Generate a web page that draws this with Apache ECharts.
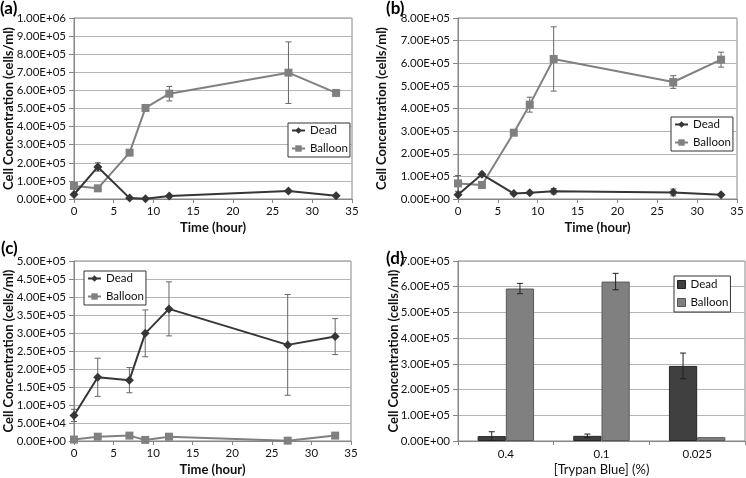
<!DOCTYPE html>
<html>
<head>
<meta charset="utf-8">
<script src="https://cdn.jsdelivr.net/npm/echarts@6/dist/echarts.min.js"></script>
<style>
html,body{margin:0;padding:0;background:#fff;}
#wrap{position:relative;width:746px;height:478px;overflow:hidden;}
.p{position:absolute;width:373px;height:239px;}
</style>
</head>
<body>
<div id="wrap">
<div class="p" id="pa" style="left:0;top:0;"></div>
<div class="p" id="pb" style="left:373px;top:0;"></div>
<div class="p" id="pc" style="left:0;top:239px;"></div>
<div class="p" id="pd" style="left:373px;top:239px;"></div>
</div>
<script>
// ---- data ----
var times = [0, 3, 7, 9, 12, 27, 33];
var xTicks = [0, 5, 10, 15, 20, 25, 30, 35];

// (a)
var aDead       = [25000, 177000, 5000, 2000, 17000, 44000, 18000];
var aDeadErr    = [0, 23000, 0, 0, 0, 0, 0];
var aBalloon    = [72000, 59000, 256000, 503000, 582000, 698000, 586000];
var aBalloonErr = [0, 0, 0, 0, 40000, 170000, 15000];

// (b)
var bDead       = [19000, 109000, 24000, 28000, 34000, 29000, 19000];
var bDeadErr    = [0, 0, 0, 0, 12000, 15000, 0];
var bBalloon    = [69000, 62000, 293000, 417000, 619000, 517000, 616000];
var bBalloonErr = [35000, 0, 0, 33000, 142000, 28000, 33000];

// (c)
var cDead       = [71000, 177000, 169000, 299000, 367000, 267000, 290000];
var cDeadErr    = [17000, 53000, 35000, 65000, 75000, 140000, 50000];
var cBalloon    = [4000, 12000, 15000, 3000, 12000, 1000, 15000];
var cBalloonErr = [0, 0, 0, 0, 8000, 0, 0];

// (d)
var dCategories = ['0.4', '0.1', '0.025'];
var dDead       = [19000, 20000, 292000];
var dDeadErr    = [17000, 7000, 50000];
var dBalloon    = [593000, 620000, 15000];
var dBalloonErr = [20000, 32000, 0];

var FONT = 'Lato';
var DEAD_C = '#363636', BAL_C = '#808080', ERR_C = '#666666';
var TICK_FS = 11.5, NAME_FS = 13, LEG_FS = 11.5;

function sci(v) {
  var s = Number(v).toExponential(2).toUpperCase();
  return s.replace(/E([+-])(\d)$/, 'E$10$2');
}

function errData(xs, vals, errs) {
  var out = [];
  for (var i = 0; i < vals.length; i++) {
    if (errs[i] > 0) out.push([xs[i], vals[i] - errs[i], vals[i] + errs[i]]);
  }
  return out;
}

function errRender(color) {
  return function (params, api) {
    var x = api.value(0), lo = api.value(1), hi = api.value(2);
    var p1 = api.coord([x, hi]), p2 = api.coord([x, lo]);
    var w = 3;
    var st = {stroke: color, lineWidth: 1};
    return {type: 'group', children: [
      {type: 'line', shape: {x1: p1[0], y1: p1[1], x2: p2[0], y2: p2[1]}, style: st},
      {type: 'line', shape: {x1: p1[0] - w, y1: p1[1], x2: p1[0] + w, y2: p1[1]}, style: st},
      {type: 'line', shape: {x1: p2[0] - w, y1: p2[1], x2: p2[0] + w, y2: p2[1]}, style: st}
    ]};
  };
}

function pairs(xs, ys) { return xs.map(function (x, i) { return [x, ys[i]]; }); }

function yAxisCfg(max, interval, nameGap) {
  return {
    type: 'value', min: 0, max: max, interval: interval,
    name: 'Cell Concentration (cells/ml)', nameLocation: 'middle', nameGap: nameGap,
    nameMoveOverlap: false,
    nameTextStyle: {fontFamily: FONT, fontWeight: 'bold', fontSize: NAME_FS, color: '#111', lineHeight: 14},
    axisLine: {show: true, lineStyle: {color: '#868686', width: 1}},
    axisTick: {show: true, length: 5, lineStyle: {color: '#868686'}},
    axisLabel: {fontFamily: FONT, fontSize: TICK_FS, color: '#111', margin: 8, formatter: sci},
    splitLine: {show: true, lineStyle: {color: '#b4b4b4', width: 1}}
  };
}

function timeXAxis() {
  return {
    type: 'value', min: 0, max: 35, interval: 5,
    name: 'Time (hour)', nameLocation: 'middle', nameGap: 22, nameMoveOverlap: false,
    nameTextStyle: {fontFamily: FONT, fontWeight: 'bold', fontSize: NAME_FS, color: '#111'},
    axisLine: {show: true, onZero: false, lineStyle: {color: '#868686', width: 1}},
    axisTick: {show: true, length: 4, lineStyle: {color: '#868686'}},
    axisLabel: {fontFamily: FONT, fontSize: TICK_FS, color: '#111', margin: 6},
    splitLine: {show: false}
  };
}

function legendCfg(left, top) {
  return {
    orient: 'vertical', left: left, top: top,
    padding: [1, 2, 2, 3], itemGap: 5, itemWidth: 13, itemHeight: 8,
    borderColor: '#333', borderWidth: 1, backgroundColor: '#fff',
    textStyle: {fontFamily: FONT, fontSize: LEG_FS, color: '#111', lineHeight: 13},
    data: ['Dead', 'Balloon']
  };
}

function panelTitle(txt, left, top) {
  return {text: txt, left: left, top: top, padding: 0,
    textStyle: {fontFamily: FONT, fontWeight: 'bold', fontSize: 17, color: '#000'}};
}

function gridCfg(g) {
  return {left: g[0], top: g[1], width: g[2], height: g[3], show: true,
    containLabel: false, outerBoundsMode: 'none',
    borderColor: '#868686', borderWidth: 1, backgroundColor: 'transparent'};
}

function lineOption(label, labelPos, grid, yMax, yInt, legendPos, dead, deadErr, bal, balErr) {
  return {
    animation: false,
    title: panelTitle(label, labelPos[0], labelPos[1]),
    grid: gridCfg(grid),
    legend: legendCfg(legendPos[0], legendPos[1]),
    xAxis: timeXAxis(),
    yAxis: yAxisCfg(yMax, yInt, grid[0] - 16),
    series: [
      {type: 'custom', name: 'errDead', renderItem: errRender(ERR_C), data: errData(times, dead, deadErr),
       encode: {x: 0, y: [1, 2]}, z: 1, silent: true},
      {type: 'custom', name: 'errBal', renderItem: errRender(ERR_C), data: errData(times, bal, balErr),
       encode: {x: 0, y: [1, 2]}, z: 1, silent: true},
      {type: 'line', name: 'Dead', data: pairs(times, dead), symbol: 'diamond', symbolSize: 9,
       itemStyle: {color: DEAD_C}, lineStyle: {color: DEAD_C, width: 2}, z: 3},
      {type: 'line', name: 'Balloon', data: pairs(times, bal), symbol: 'rect', symbolSize: 8,
       itemStyle: {color: BAL_C}, lineStyle: {color: BAL_C, width: 2}, z: 2}
    ]
  };
}

var ca = echarts.init(document.getElementById('pa'));
ca.setOption(lineOption('(a)', [0, 0], [74, 18, 278, 181], 1000000, 100000, [288, 123],
  aDead, aDeadErr, aBalloon, aBalloonErr));

var cb = echarts.init(document.getElementById('pb'));
cb.setOption(lineOption('(b)', [13, 0], [85, 18, 279, 181], 800000, 100000, [298, 117],
  bDead, bDeadErr, bBalloon, bBalloonErr));

var cc = echarts.init(document.getElementById('pc'));
cc.setOption(lineOption('(c)', [1, 1], [74, 22, 277, 180], 500000, 50000, [84, 32],
  cDead, cDeadErr, cBalloon, cBalloonErr));

// (d) bar chart
var GAP = 0.41;
function barErrRender(side) {
  return function (params, api) {
    var ci = api.value(0), lo = api.value(1), hi = api.value(2);
    var band = api.size([1, 0])[0];
    var bw = band * (1 - GAP) / 2;
    var p1 = api.coord([ci, hi]), p2 = api.coord([ci, lo]);
    var x = p1[0] + side * bw / 2;
    var w = 3;
    var st = {stroke: '#202020', lineWidth: 1};
    return {type: 'group', children: [
      {type: 'line', shape: {x1: x, y1: p1[1], x2: x, y2: p2[1]}, style: st},
      {type: 'line', shape: {x1: x - w, y1: p1[1], x2: x + w, y2: p1[1]}, style: st},
      {type: 'line', shape: {x1: x - w, y1: p2[1], x2: x + w, y2: p2[1]}, style: st}
    ]};
  };
}
function catErr(vals, errs) {
  var out = [];
  for (var i = 0; i < vals.length; i++) if (errs[i] > 0) out.push([i, vals[i] - errs[i], vals[i] + errs[i]]);
  return out;
}

var cd = echarts.init(document.getElementById('pd'));
cd.setOption({
  animation: false,
  title: panelTitle('(d)', 13, 11),
  grid: gridCfg([85, 22, 287, 180]),
  legend: {
    orient: 'vertical', left: 301, top: 37,
    padding: [2, 2, 3, 3], itemGap: 5, itemWidth: 8, itemHeight: 8,
    borderColor: '#333', borderWidth: 1, backgroundColor: '#fff',
    textStyle: {fontFamily: FONT, fontSize: LEG_FS, color: '#111', lineHeight: 13},
    data: [
      {name: 'Dead', icon: 'rect', itemStyle: {color: '#404040', borderColor: '#222', borderWidth: 1}},
      {name: 'Balloon', icon: 'rect', itemStyle: {color: '#808080', borderColor: '#555', borderWidth: 1}}
    ]
  },
  xAxis: {
    type: 'category', data: dCategories,
    name: '[Trypan Blue] (%)', nameLocation: 'middle', nameGap: 22, nameMoveOverlap: false,
    nameTextStyle: {fontFamily: FONT, fontSize: NAME_FS, color: '#111'},
    axisLine: {show: true, lineStyle: {color: '#868686'}},
    axisTick: {show: true, length: 4, alignWithLabel: false, lineStyle: {color: '#868686'}},
    axisLabel: {fontFamily: FONT, fontSize: TICK_FS, color: '#111', margin: 7},
    splitLine: {show: false}
  },
  yAxis: yAxisCfg(700000, 100000, 85 - 28),
  series: [
    {type: 'bar', name: 'Dead', data: dDead, barGap: '0%', barCategoryGap: (GAP * 100) + '%',
     itemStyle: {color: '#404040', borderColor: '#262626', borderWidth: 1}, z: 2},
    {type: 'bar', name: 'Balloon', data: dBalloon, barGap: '0%', barCategoryGap: (GAP * 100) + '%',
     itemStyle: {color: '#808080', borderColor: '#5a5a5a', borderWidth: 1}, z: 2},
    {type: 'custom', renderItem: barErrRender(-1), data: catErr(dDead, dDeadErr), encode: {x: 0, y: [1, 2]}, z: 5, silent: true},
    {type: 'custom', renderItem: barErrRender(1), data: catErr(dBalloon, dBalloonErr), encode: {x: 0, y: [1, 2]}, z: 5, silent: true}
  ]
});
</script>
</body>
</html>
